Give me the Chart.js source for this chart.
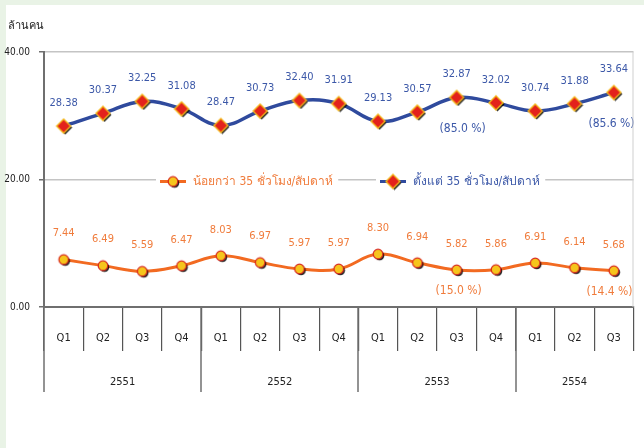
<!DOCTYPE html>
<html>
<head>
<meta charset="utf-8">
<script src="https://cdn.jsdelivr.net/npm/chart.js@4.4.1/dist/chart.umd.min.js"></script>
<style>
  html, body { margin: 0; padding: 0; background: #e9f3e6; }
  #chart { display: block; }
</style>
</head>
<body>
<canvas id="chart" width="644" height="448"></canvas>
<script>
// data (million persons, by quarter)
const quarters = ['Q1','Q2','Q3','Q4','Q1','Q2','Q3','Q4','Q1','Q2','Q3','Q4','Q1','Q2','Q3'];
const years = ['2551', '2552', '2553', '2554'];
const yearSizes = [4, 4, 4, 3];
const under35 = [7.44, 6.49, 5.59, 6.47, 8.03, 6.97, 5.97, 5.97, 8.30, 6.94, 5.82, 5.86, 6.91, 6.14, 5.68];
const over35 = [28.38, 30.37, 32.25, 31.08, 28.47, 30.73, 32.40, 31.91, 29.13, 30.57, 32.87, 32.02, 30.74, 31.88, 33.64];
const seriesNames = ['น้อยกว่า 35 ชั่วโมง/สัปดาห์', 'ตั้งแต่ 35 ชั่วโมง/สัปดาห์'];
const shareAt = [10, 14];
const under35Share = ['(15.0 %)', '(14.4 %)'];
const over35Share = ['(85.0 %)', '(85.6 %)'];
const yMax = 40;
const yStep = 20;

const FONT = "'DejaVu Sans Condensed', 'DejaVu Sans', 'Noto Sans', sans-serif";
const ORANGE = '#f26a21';
const ORANGE_TEXT = '#f07c3c';
const BLUE = '#2f4a9d';
const BLUE_TEXT = '#3c58a8';

// marker images with the little drop shadow
function makeMarker(kind) {
    const c = document.createElement('canvas');
    c.width = 18; c.height = 18;
    const g = c.getContext('2d');
    g.shadowColor = 'rgba(0,0,0,0.85)';
    g.shadowOffsetX = 1.5;
    g.shadowOffsetY = 1.5;
    g.beginPath();
    if (kind === 'circle') {
        g.arc(9, 9, 4.8, 0, Math.PI * 2);
        g.fillStyle = '#f6c51c';
        g.fill();
        g.shadowColor = 'transparent';
        g.lineWidth = 1.2;
        g.strokeStyle = '#d8261d';
        g.stroke();
    } else {
        g.moveTo(9, 2); g.lineTo(16, 9); g.lineTo(9, 16); g.lineTo(2, 9); g.closePath();
        g.fillStyle = '#e3221c';
        g.fill();
        g.shadowColor = 'transparent';
        g.lineWidth = 1.4;
        g.strokeStyle = '#f3b51a';
        g.stroke();
    }
    return c;
}
const circleMark = makeMarker('circle');
const diamondMark = makeMarker('diamond');

const extras = {
    id: 'extras',
    beforeDraw(chart) {
        const ctx = chart.ctx;
        ctx.save();
        ctx.fillStyle = '#e9f3e6';
        ctx.fillRect(0, 0, chart.width, chart.height);
        ctx.fillStyle = '#ffffff';
        ctx.fillRect(6, 5, chart.width - 6, chart.height - 5);
        ctx.fillStyle = '#222';
        ctx.font = '11px ' + FONT;
        ctx.textBaseline = 'middle';
        ctx.fillText('ล้านคน', 8, 26);
        ctx.restore();
    },
    afterDatasetsDraw(chart) {
        const ctx = chart.ctx;
        const area = chart.chartArea;
        ctx.save();
        ctx.font = '11px ' + FONT;
        ctx.textAlign = 'center';
        ctx.textBaseline = 'middle';

        // value labels
        const labelSets = [[under35, ORANGE_TEXT, 26], [over35, BLUE_TEXT, 23]];
        labelSets.forEach(([vals, color, off], d) => {
            const pts = chart.getDatasetMeta(d).data;
            ctx.fillStyle = color;
            vals.forEach((v, i) => ctx.fillText(v.toFixed(2), pts[i].x, pts[i].y - off));
        });

        // share annotations
        ctx.font = '12px ' + FONT;
        const p0 = chart.getDatasetMeta(0).data;
        const p1 = chart.getDatasetMeta(1).data;
        shareAt.forEach((idx, k) => {
            ctx.fillStyle = ORANGE_TEXT;
            ctx.fillText(under35Share[k], Math.min(p0[idx].x + 2, area.right - 24), p0[idx].y + 21);
            ctx.fillStyle = BLUE_TEXT;
            ctx.fillText(over35Share[k], Math.min(p1[idx].x + 6, area.right - 22), p1[idx].y + 31);
        });

        // legend inside the plot
        const ly = chart.scales.y.getPixelForValue(yStep) + 2;
        const items = [[160, ORANGE, circleMark, ORANGE_TEXT, seriesNames[0]],
                       [380, BLUE, diamondMark, BLUE_TEXT, seriesNames[1]]];
        ctx.textAlign = 'left';
        items.forEach(([lx, lineColor, mark, textColor, name]) => {
            ctx.fillStyle = '#fff';
            ctx.fillRect(lx - 4, ly - 10, ctx.measureText(name).width + 42, 20);
            ctx.strokeStyle = lineColor;
            ctx.lineWidth = 3;
            ctx.beginPath();
            ctx.moveTo(lx, ly); ctx.lineTo(lx + 26, ly);
            ctx.stroke();
            ctx.drawImage(mark, lx + 13 - 9, ly - 9);
            ctx.fillStyle = textColor;
            ctx.fillText(name, lx + 33, ly);
        });

        // right frame line
        ctx.strokeStyle = '#cfcfcf';
        ctx.lineWidth = 1;
        ctx.beginPath();
        ctx.moveTo(area.right - 0.5, area.top);
        ctx.lineTo(area.right - 0.5, area.bottom);
        ctx.stroke();
        ctx.restore();
    },
    afterDraw(chart) {
        const ctx = chart.ctx;
        const x = chart.scales.x;
        const area = chart.chartArea;
        const half = (x.getPixelForValue(1) - x.getPixelForValue(0)) / 2;
        ctx.save();
        ctx.strokeStyle = '#6f6f6f';
        ctx.lineWidth = 1.5;
        ctx.fillStyle = '#222';
        ctx.font = '11px ' + FONT;
        ctx.textAlign = 'center';
        ctx.textBaseline = 'middle';
        let start = 0;
        years.forEach((yr, k) => {
            const left = x.getPixelForValue(start) - half;
            const right = x.getPixelForValue(start + yearSizes[k] - 1) + half;
            ctx.beginPath();
            ctx.moveTo(Math.round(left), area.bottom);
            ctx.lineTo(Math.round(left), area.bottom + 85);
            ctx.stroke();
            ctx.fillText(yr, (left + right) / 2, area.bottom + 75);
            start += yearSizes[k];
        });
        ctx.restore();
    }
};

new Chart(document.getElementById('chart'), {
    type: 'line',
    data: {
        labels: quarters,
        datasets: [{
            label: seriesNames[0],
            data: under35,
            borderColor: ORANGE,
            borderWidth: 3,
            tension: 0.4,
            pointStyle: circleMark,
            pointRadius: 6
        }, {
            label: seriesNames[1],
            data: over35,
            borderColor: BLUE,
            borderWidth: 3.5,
            tension: 0.4,
            pointStyle: diamondMark,
            pointRadius: 7
        }]
    },
    options: {
        responsive: false,
        animation: false,
        layout: { padding: { top: 52, right: 2, left: 0, bottom: 0 } },
        plugins: {
            legend: { display: false },
            tooltip: { enabled: false }
        },
        scales: {
            x: {
                offset: true,
                afterFit: (s) => { s.height = 141; },
                grid: { offset: true, drawOnChartArea: false, tickLength: 44, color: '#555', lineWidth: 1.2 },
                border: { color: '#6f6f6f', width: 2 },
                ticks: { padding: -19, color: '#222', font: { family: FONT, size: 11 } }
            },
            y: {
                min: 0,
                max: yMax,
                afterFit: (s) => { s.width = 44; },
                ticks: {
                    stepSize: yStep,
                    padding: 9,
                    color: '#222',
                    font: { family: FONT, size: 10 },
                    callback: (v) => v.toFixed(2)
                },
                grid: {
                    color: (c) => c.tick && c.tick.value === 0 ? 'rgba(0,0,0,0)' : '#c4c4c4',
                    lineWidth: 1.5,
                    borderDash: [8, 6],
                    tickLength: 5,
                    tickColor: '#6f6f6f',
                    tickBorderDash: []
                },
                border: { color: '#6f6f6f', width: 2 }
            }
        }
    },
    plugins: [extras]
});
</script>
</body>
</html>
